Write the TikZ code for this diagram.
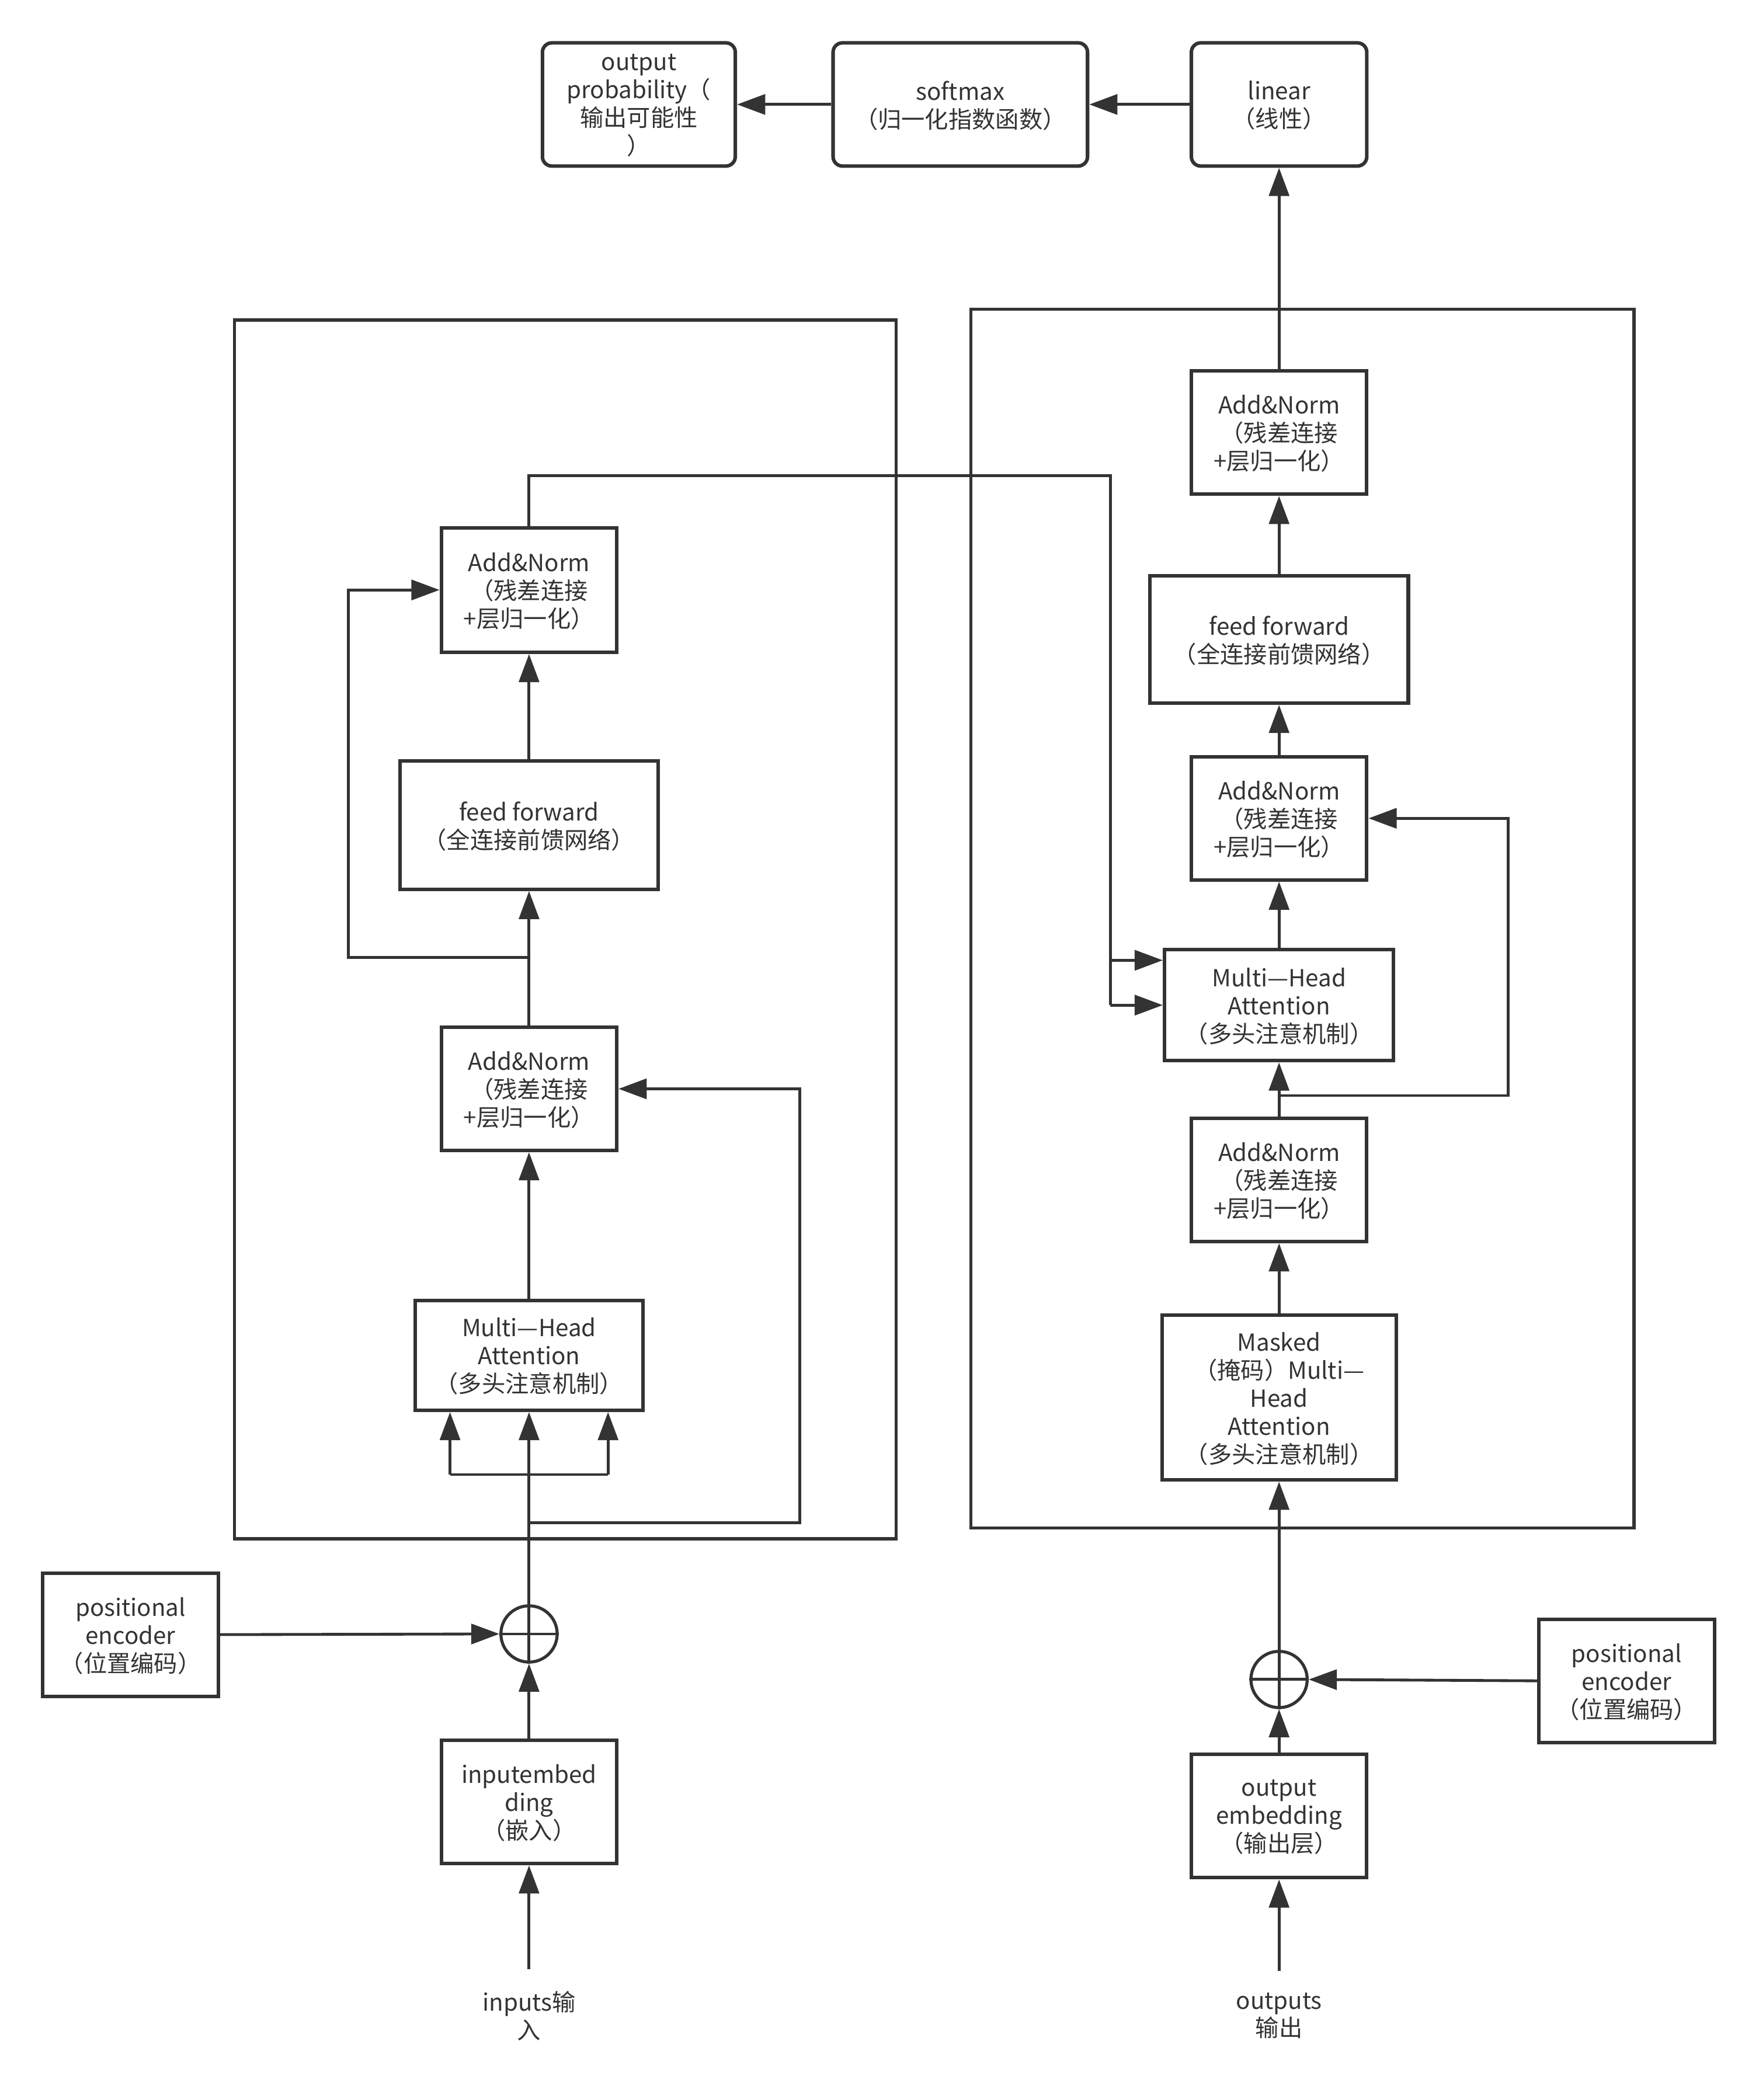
\documentclass[tikz,border=0pt]{standalone}
\usepackage{fontspec}
\setmainfont{Noto Sans CJK SC}
\usetikzlibrary{arrows.meta}
\definecolor{ink}{HTML}{333333}

\begin{document}
\begin{tikzpicture}[
  box/.style={draw=ink, line width=1.5pt, fill=white, text=ink,
              minimum width=2.62cm, minimum height=1.84cm, inner sep=1pt,
              text depth=-4pt,
              align=center, font=\fontsize{10}{11.9}\selectfont},
  topbox/.style={box, rounded corners=4pt},
  frame/.style={draw=ink, line width=1.3pt},
  sum/.style={circle, draw=ink, line width=1.3pt, fill=white,
              minimum size=0.84cm, inner sep=0pt},
  lbl/.style={text=ink, align=center, inner xsep=1pt, inner ysep=9pt,
              font=\fontsize{10}{11.9}\selectfont},
  wire/.style={draw=ink, line width=1.2pt},
  arrow/.style={wire, -{Triangle[length=0.42cm, width=0.3cm]}}
]
  \useasboundingbox (0,0) rectangle (26.26,-31.36);

  % encoder / decoder frames
  \draw[frame] (3.50,-4.78) rectangle (13.38,-22.98);
  \draw[frame] (14.50,-4.62) rectangle (24.40,-22.82);

  % top row
  \node[topbox, minimum width=2.88cm] (prob) at (9.54,-1.56) {output\\probability（\\输出可能性\\）};
  \node[topbox, minimum width=3.80cm] (softmax) at (14.34,-1.56) {softmax\\（归一化指数函数）};
  \node[topbox] (linear) at (19.10,-1.56) {linear\\（线性）};

  % encoder
  \node[box, minimum height=1.86cm] (eadd2) at (7.90,-8.81) {Add\&Norm\\（残差连接\\+层归一化）};
  \node[box, minimum width=3.86cm, minimum height=1.92cm] (eff) at (7.90,-12.32) {feed forward\\（全连接前馈网络）};
  \node[box] (eadd1) at (7.90,-16.26) {Add\&Norm\\（残差连接\\+层归一化）};
  \node[box, minimum width=3.40cm, minimum height=1.64cm] (emha) at (7.90,-20.24) {Multi—Head\\Attention\\（多头注意机制）};
  \node[box] (epos) at (1.95,-24.41) {positional\\encoder\\（位置编码）};
  \node[sum] (esum) at (7.90,-24.40) {};
  \node[box] (eemb) at (7.90,-26.91) {inputembed\\ding\\（嵌入）};
  \node[lbl] (ein) at (7.90,-30.10) {inputs输\\入};

  % decoder
  \node[box] (dadd3) at (19.10,-6.46) {Add\&Norm\\（残差连接\\+层归一化）};
  \node[box, minimum width=3.86cm, minimum height=1.90cm] (dff) at (19.10,-9.55) {feed forward\\（全连接前馈网络）};
  \node[box] (dadd2) at (19.10,-12.22) {Add\&Norm\\（残差连接\\+层归一化）};
  \node[box, minimum width=3.42cm, minimum height=1.66cm] (dmha) at (19.10,-15.01) {Multi—Head\\Attention\\（多头注意机制）};
  \node[box] (dadd1) at (19.10,-17.62) {Add\&Norm\\（残差连接\\+层归一化）};
  \node[box, minimum width=3.50cm, minimum height=2.46cm] (dmask) at (19.10,-20.87) {Masked\\（掩码）Multi—\\Head\\Attention\\（多头注意机制）};
  \node[sum] (dsum) at (19.10,-25.08) {};
  \node[box] (dpos) at (24.29,-25.10) {positional\\encoder\\（位置编码）};
  \node[box] (demb) at (19.10,-27.12) {output\\embedding\\（输出层）};
  \node[lbl] (dout) at (19.10,-30.10) {outputs\\输出};

  % top row arrows
  \draw[arrow] (dadd3.north) -- (linear.south);
  \draw[arrow] (linear.west) -- (softmax.east);
  \draw[arrow] (softmax.west) -- (prob.east);

  % encoder wiring
  \draw[arrow] (ein.north) -- (eemb.south);
  \draw[arrow] (eemb.north) -- (esum.south);
  \draw[arrow] (epos.east) -- (esum.west);
  \draw[wire] (esum.west) -- (esum.east) (esum.south) -- (esum.north);
  \draw[arrow] (esum.north) -- (emha.south);
  \coordinate (eq) at (6.72,-22.02);
  \coordinate (ek) at (9.08,-22.02);
  \draw[wire] (eq) -- (ek);
  \draw[arrow] (eq) -- (eq |- emha.south);
  \draw[arrow] (ek) -- (ek |- emha.south);
  \coordinate (er1) at (7.90,-22.74);
  \coordinate (er1b) at (11.94,-22.74);
  \draw[arrow] (er1) -- (er1b) |- (eadd1.east);
  \draw[arrow] (emha.north) -- (eadd1.south);
  \draw[arrow] (eadd1.north) -- (eff.south);
  \coordinate (er2) at (7.90,-14.30);
  \coordinate (er2b) at (5.20,-14.30);
  \draw[arrow] (er2) -- (er2b) |- (eadd2.west);
  \draw[arrow] (eff.north) -- (eadd2.south);

  % encoder output into decoder attention
  \coordinate (eo1) at (7.90,-7.10);
  \coordinate (eo2) at (16.58,-7.10);
  \coordinate (eo3) at (16.58,-14.34);
  \coordinate (eo4) at (16.58,-15.01);
  \draw[wire] (eadd2.north) -- (eo1) -- (eo2) -- (eo4);
  \draw[arrow] (eo3) -- (eo3 -| dmha.west);
  \draw[arrow] (eo4) -- (dmha.west);

  % decoder wiring
  \draw[arrow] (dout.north) -- (demb.south);
  \draw[arrow] (demb.north) -- (dsum.south);
  \draw[arrow] (dpos.west) -- (dsum.east);
  \draw[wire] (dsum.west) -- (dsum.east) (dsum.south) -- (dsum.north);
  \draw[arrow] (dsum.north) -- (dmask.south);
  \draw[arrow] (dmask.north) -- (dadd1.south);
  \draw[arrow] (dadd1.north) -- (dmha.south);
  \coordinate (dr1) at (19.10,-16.36);
  \coordinate (dr1b) at (22.52,-16.36);
  \draw[arrow] (dr1) -- (dr1b) |- (dadd2.east);
  \draw[arrow] (dmha.north) -- (dadd2.south);
  \draw[arrow] (dadd2.north) -- (dff.south);
  \draw[arrow] (dff.north) -- (dadd3.south);
\end{tikzpicture}
\end{document}
